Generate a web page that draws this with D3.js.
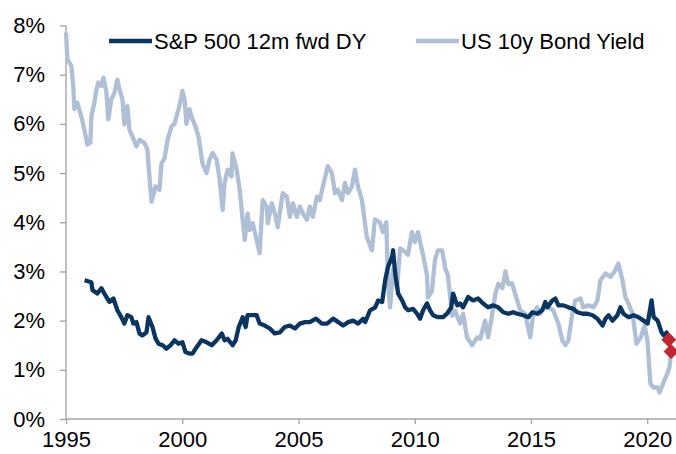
<!DOCTYPE html>
<html>
<head>
<meta charset="utf-8">
<script src="https://cdn.jsdelivr.net/npm/d3@7"></script>
<style>
  body { margin: 0; background: #fff; }
  svg { display: block; font-family: "Liberation Sans", Arial, sans-serif; }
</style>
</head>
<body>
<div id="chart"></div>
<script>
// series: [decimal year, percent]
const dyYears = [1995.80,1996.09,1996.14,1996.35,1996.52,1996.65,1996.87,1997.04,1997.21,1997.38,1997.51,1997.64,1997.81,1997.90,1998.03,1998.16,1998.28,1998.46,1998.55,1998.72,1998.85,1998.98,1999.15,1999.32,1999.50,1999.67,1999.84,2000.01,2000.14,2000.31,2000.44,2000.62,2000.83,2001.05,2001.27,2001.48,2001.70,2001.82,2001.95,2002.17,2002.30,2002.43,2002.60,2002.73,2002.81,2002.99,2003.20,2003.33,2003.55,2003.77,2003.98,2004.20,2004.41,2004.63,2004.85,2005.06,2005.28,2005.49,2005.75,2006.01,2006.23,2006.49,2006.71,2006.92,2007.14,2007.35,2007.57,2007.78,2007.87,2008.08,2008.30,2008.43,2008.60,2008.73,2008.85,2009.03,2009.07,2009.16,2009.29,2009.46,2009.59,2009.72,2009.93,2010.10,2010.23,2010.36,2010.53,2010.66,2010.79,2011.00,2011.22,2011.39,2011.57,2011.65,2011.83,2011.95,2012.08,2012.30,2012.51,2012.73,2012.94,2013.16,2013.38,2013.59,2013.81,2014.03,2014.24,2014.41,2014.67,2014.89,2015.06,2015.27,2015.49,2015.62,2015.71,2015.92,2016.05,2016.18,2016.40,2016.61,2016.83,2017.00,2017.22,2017.43,2017.65,2017.86,2018.08,2018.21,2018.34,2018.51,2018.72,2018.85,2018.98,2019.20,2019.41,2019.63,2019.84,2020.02,2020.19,2020.28,2020.45,2020.62,2020.71,2020.84,2020.93];
const dyValues = [2.82,2.78,2.62,2.55,2.66,2.55,2.38,2.45,2.21,2.07,1.94,2.11,2.07,1.94,1.97,1.74,1.70,1.76,2.07,1.87,1.64,1.53,1.50,1.43,1.50,1.60,1.53,1.56,1.36,1.33,1.33,1.46,1.60,1.56,1.50,1.60,1.74,1.60,1.63,1.50,1.60,1.87,2.07,1.87,2.11,2.11,2.11,1.94,1.90,1.84,1.74,1.76,1.87,1.90,1.84,1.94,1.97,1.97,2.04,1.94,1.94,2.04,1.97,1.90,1.97,2.00,1.94,2.04,1.97,2.21,2.27,2.41,2.38,2.82,3.09,3.30,3.43,2.96,2.55,2.41,2.27,2.21,2.24,2.14,2.04,2.21,2.35,2.21,2.11,2.07,2.07,2.14,2.27,2.55,2.31,2.35,2.27,2.48,2.41,2.45,2.35,2.27,2.31,2.27,2.17,2.14,2.17,2.14,2.11,2.07,2.17,2.14,2.21,2.38,2.27,2.41,2.45,2.31,2.31,2.27,2.24,2.17,2.14,2.14,2.11,2.04,1.90,2.04,2.11,2.00,2.11,2.27,2.14,2.07,2.11,2.07,2.00,1.94,2.41,2.07,2.00,1.76,1.70,1.76,1.61];

const bondYears = [1995.00,1995.06,1995.23,1995.31,1995.36,1995.49,1995.66,1995.79,1995.92,1996.05,1996.09,1996.22,1996.31,1996.39,1996.52,1996.61,1996.74,1996.82,1996.95,1997.08,1997.21,1997.30,1997.43,1997.51,1997.64,1997.73,1997.86,1998.03,1998.16,1998.38,1998.50,1998.59,1998.68,1998.85,1999.02,1999.11,1999.24,1999.37,1999.54,1999.67,1999.75,1999.88,2000.01,2000.10,2000.18,2000.31,2000.44,2000.57,2000.70,2000.87,2001.05,2001.17,2001.31,2001.48,2001.61,2001.74,2001.82,2001.95,2002.12,2002.16,2002.34,2002.47,2002.60,2002.69,2002.81,2002.90,2003.03,2003.20,2003.33,2003.46,2003.63,2003.68,2003.85,2003.98,2004.11,2004.32,2004.50,2004.63,2004.76,2004.93,2005.06,2005.19,2005.36,2005.49,2005.62,2005.79,2005.92,2006.05,2006.26,2006.44,2006.57,2006.69,2006.87,2007.00,2007.13,2007.30,2007.43,2007.56,2007.73,2007.77,2007.94,2008.16,2008.29,2008.50,2008.63,2008.78,2008.85,2008.94,2009.07,2009.24,2009.37,2009.58,2009.71,2009.88,2010.01,2010.14,2010.36,2010.53,2010.57,2010.74,2010.87,2011.00,2011.18,2011.31,2011.43,2011.61,2011.74,2011.95,2012.08,2012.25,2012.47,2012.69,2012.82,2013.03,2013.16,2013.34,2013.47,2013.60,2013.77,2013.90,2014.03,2014.18,2014.32,2014.54,2014.75,2014.97,2015.10,2015.27,2015.40,2015.53,2015.75,2015.96,2016.18,2016.35,2016.48,2016.61,2016.78,2016.91,2017.13,2017.25,2017.47,2017.69,2017.86,2017.99,2018.20,2018.42,2018.63,2018.76,2018.94,2019.06,2019.19,2019.37,2019.54,2019.72,2019.89,2020.01,2020.14,2020.27,2020.44,2020.53,2020.70,2020.83,2020.96,2021.03];
const bondValues = [7.86,7.31,7.18,6.77,6.30,6.43,6.15,5.88,5.58,5.62,6.15,6.43,6.70,6.84,6.77,6.94,6.63,6.09,6.50,6.63,6.90,6.70,6.50,5.99,6.36,5.88,5.74,5.54,5.68,5.61,5.48,4.93,4.42,4.73,4.66,5.20,5.30,5.68,5.95,6.00,6.15,6.36,6.67,6.50,6.00,6.30,6.09,5.95,5.74,5.20,5.00,5.27,5.41,5.27,4.86,4.25,4.80,5.07,4.93,5.40,5.07,4.66,4.05,3.64,4.18,3.84,3.98,3.64,3.37,4.45,4.32,3.98,4.39,4.18,3.90,4.59,4.52,4.11,4.39,4.11,4.32,4.18,4.05,4.32,4.11,4.52,4.45,4.73,5.14,5.00,4.59,4.66,4.45,4.80,4.59,4.73,5.07,4.73,4.45,4.31,3.70,3.43,4.06,4.00,3.80,4.00,2.80,2.27,3.05,2.65,3.47,3.40,3.34,3.80,3.60,3.80,3.33,2.92,2.47,2.60,3.23,3.43,3.43,3.07,2.92,2.10,2.20,1.94,2.14,1.66,1.50,1.66,1.63,2.00,1.66,2.14,2.55,2.75,2.66,3.00,2.74,2.76,2.55,2.21,2.14,1.66,2.14,2.27,2.14,2.27,2.27,2.21,1.94,1.60,1.50,1.60,2.14,2.41,2.45,2.27,2.31,2.27,2.41,2.82,2.96,2.89,3.02,3.16,2.82,2.48,2.35,2.14,1.53,1.66,1.90,1.60,0.72,0.64,0.64,0.54,0.74,0.88,1.05,1.37];

// latest points, shown as red diamonds
const markYears = [2020.93, 2021.03];
const markValues = [1.61, 1.37];

const seriesNames = ["S&P 500 12m fwd DY", "US 10y Bond Yield"];
const seriesColors = ["#0a3560", "#aebfd6"];
const xTickYears = [1995, 2000, 2005, 2010, 2015, 2020];
const yTickValues = [0, 1, 2, 3, 4, 5, 6, 7, 8];

const width = 676, height = 454;
const svg = d3.select("#chart").append("svg")
    .attr("width", width)
    .attr("height", height);

const x = d3.scaleLinear().domain([1995, 2021.24]).range([66, 676]);
const y = d3.scaleLinear().domain([0, 8]).range([419, 25.5]);

const axisColor = "#a6a6a6";

// x axis
const xAxis = svg.append("g")
    .attr("transform", "translate(0," + y(0) + ")")
    .call(d3.axisBottom(x).tickValues(xTickYears).tickFormat(d3.format("d")).tickSize(5).tickPadding(3));
xAxis.select(".domain").attr("d", "M" + x.range()[0] + ",0H" + x.range()[1]);

// y axis
const yAxis = svg.append("g")
    .attr("transform", "translate(" + x(1995) + ",0)")
    .call(d3.axisLeft(y).tickValues(yTickValues).tickFormat(d => d + "%").tickSize(6).tickPadding(15));
yAxis.select(".domain").attr("d", "M0," + y(8) + "V" + y(0));

svg.selectAll(".domain, .tick line")
    .attr("stroke", axisColor)
    .attr("stroke-width", 1.4);
svg.selectAll(".tick text")
    .attr("fill", "#000")
    .style("font-size", "22px");
xAxis.selectAll(".tick text").attr("dy", "0.9em");

const line = d3.line()
    .x(d => x(d[0]))
    .y(d => y(d[1]));

const bond = d3.zip(bondYears, bondValues);
const dy = d3.zip(dyYears, dyValues);

svg.append("path")
    .datum(bond)
    .attr("fill", "none")
    .attr("stroke", seriesColors[1])
    .attr("stroke-width", 4.3)
    .attr("stroke-linejoin", "round")
    .attr("d", line);

svg.append("path")
    .datum(dy)
    .attr("fill", "none")
    .attr("stroke", seriesColors[0])
    .attr("stroke-width", 4.3)
    .attr("stroke-linejoin", "round")
    .attr("d", line);

svg.selectAll(".mark")
    .data(d3.zip(markYears, markValues))
    .enter().append("rect")
    .attr("class", "mark")
    .attr("x", -5.3).attr("y", -5.3)
    .attr("width", 10.6).attr("height", 10.6)
    .attr("fill", "#c1272d")
    .attr("transform", d => "translate(" + x(d[0]) + "," + y(d[1]) + ") rotate(45)");

// legend
const legendX = [109, 416];
const legend = svg.selectAll(".legend")
    .data(seriesNames)
    .enter().append("g")
    .attr("class", "legend")
    .attr("transform", (d, i) => "translate(" + legendX[i] + ",41)");
legend.append("line")
    .attr("x1", 0).attr("x2", 43)
    .attr("stroke", (d, i) => seriesColors[i])
    .attr("stroke-width", 4.3);
legend.append("text")
    .attr("x", 45)
    .attr("y", 8)
    .style("font-size", "22px")
    .text(d => d);
</script>
</body>
</html>
